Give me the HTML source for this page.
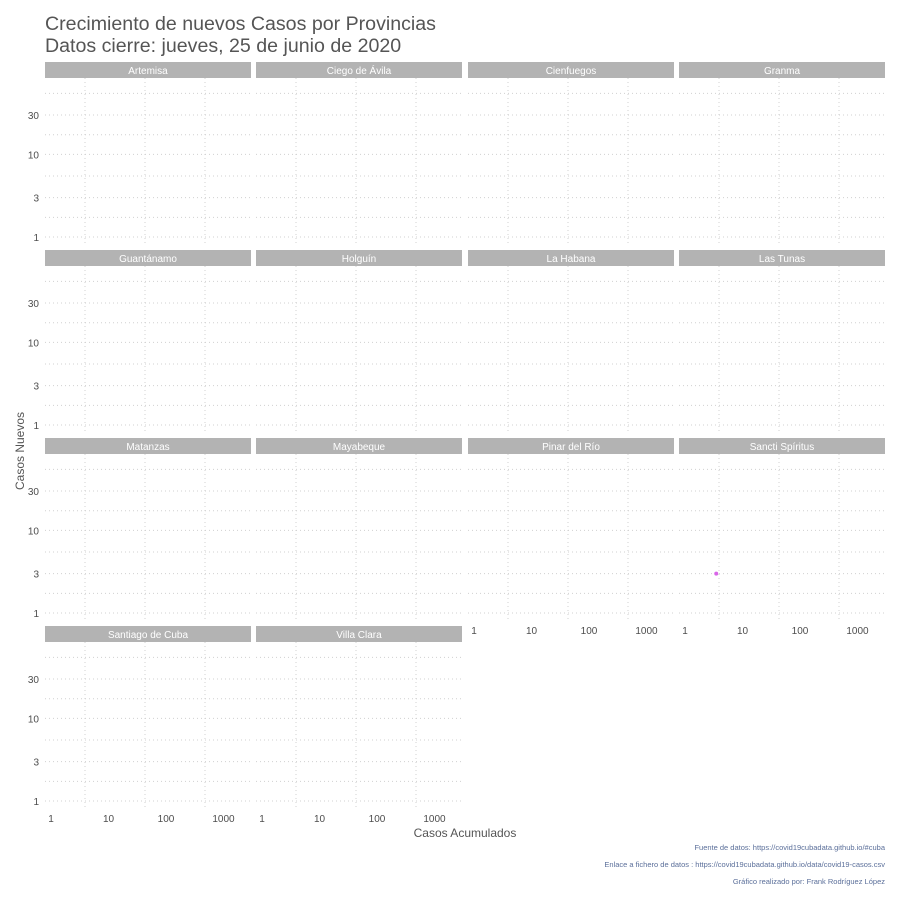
<!DOCTYPE html>
<html><head><meta charset="utf-8"><style>
body{margin:0;background:#fff}
svg{display:block;font-family:"Liberation Sans",sans-serif}
</style></head><body>
<svg id="c" width="900" height="900">
<text x="45" y="30" font-size="19.6" fill="#555">Crecimiento de nuevos Casos por Provincias</text>
<text x="45" y="52" font-size="19.6" fill="#555">Datos cierre: jueves, 25 de junio de 2020</text>
<text transform="translate(24,451) rotate(-90)" text-anchor="middle" font-size="12" fill="#555">Casos Nuevos</text>
<text x="465" y="837" text-anchor="middle" font-size="12" fill="#555">Casos Acumulados</text>
<text x="885" y="850" text-anchor="end" font-size="7.5" fill="#5b6f9a">Fuente de datos: https://covid19cubadata.github.io/#cuba</text>
<text x="885" y="867" text-anchor="end" font-size="7.5" fill="#5b6f9a">Enlace a fichero de datos : https://covid19cubadata.github.io/data/covid19-casos.csv</text>
<text x="885" y="884" text-anchor="end" font-size="7.5" fill="#5b6f9a">Gráfico realizado por: Frank Rodríguez López</text>
<g id="panels"></g>
</svg>
<script>
const provinces=["Artemisa","Ciego de Ávila","Cienfuegos","Granma","Guantánamo","Holguín","La Habana","Las Tunas","Matanzas","Mayabeque","Pinar del Río","Sancti Spíritus","Santiago de Cuba","Villa Clara"];
const pointProvince=["Sancti Spíritus"];
const pointAcum=[9];
const pointNew=[3];
const yTicks=[1,3,10,30];
const yMinor=[1.73,5.48,17.3,54.8];
const xTicks=[1,10,100,1000];
const xGrid=[10,100,1000];
const NS="http://www.w3.org/2000/svg";
const g=document.getElementById('panels');
const colX=[45,256,468,679],PW=206,rowY=[62,250,438,626];
function ys(v){return 175-82.6*Math.log10(v);}
function xs(v){return -20+60*Math.log10(v);}
function mk(t,a,p){const e=document.createElementNS(NS,t);for(const k in a)e.setAttribute(k,a[k]);(p||g).appendChild(e);return e;}
provinces.forEach((name,i)=>{
  const r=Math.floor(i/4),c=i%4,ox=colX[c],oy=rowY[r];
  const pg=mk('g',{transform:`translate(${ox},${oy})`});
  
  
  yMinor.concat(yTicks).forEach(v=>{const l=mk('line',{x1:0,x2:PW,y1:ys(v),y2:ys(v),stroke:'#d0d0d0','stroke-dasharray':'1,3','stroke-width':1},pg);
    });
  xGrid.forEach(v=>{const l=mk('line',{x1:xs(v),x2:xs(v),y1:16,y2:182,stroke:'#d0d0d0','stroke-dasharray':'1,3','stroke-width':1},pg);
    });
  const s=mk('rect',{x:0,y:0,width:PW,height:16,fill:'#b3b3b3'},pg);
  
  const st=mk('text',{x:PW/2,y:12,'text-anchor':'middle','font-size':10,fill:'#fff'},pg);st.textContent=name;
  
  if(c===0){yTicks.forEach(v=>{const t=mk('text',{x:-6,y:ys(v)+4,'text-anchor':'end','font-size':10,fill:'#4d4d4d'},pg);t.textContent=v;
    });}
  if(r===3||(r===2&&c>=2)){xTicks.forEach((v,j)=>{const t=mk('text',{x:6+j*57.5,y:196,'text-anchor':'middle','font-size':10,fill:'#4d4d4d'},pg);t.textContent=v;
    });}
  pointProvince.forEach((p,k)=>{if(p===name){const d=mk('circle',{cx:xs(pointAcum[k]),cy:ys(pointNew[k]),r:2,fill:'#d966e8'},pg);
    }});
});
</script>
</body></html>
